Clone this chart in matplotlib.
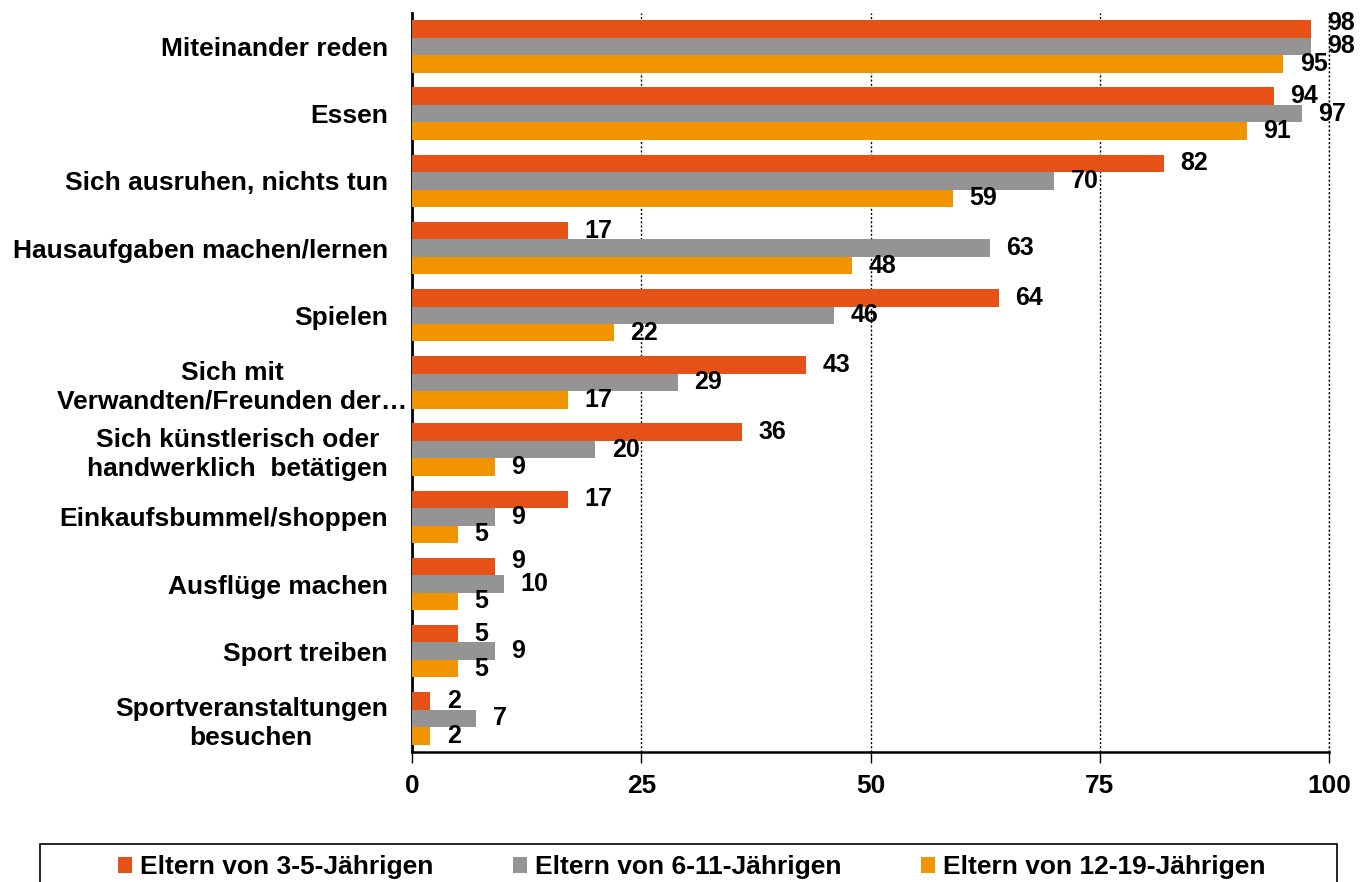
import matplotlib.pyplot as plt
import matplotlib.transforms as mtrans
from matplotlib.patches import Rectangle
import numpy as np

plt.rcParams['font.family'] = ['Liberation Sans', 'DejaVu Sans']
plt.rcParams['font.weight'] = 'bold'

categories = [
    "Miteinander reden",
    "Essen",
    "Sich ausruhen, nichts tun",
    "Hausaufgaben machen/lernen",
    "Spielen",
    "Sich mit\nVerwandten/Freunden der…",
    "Sich künstlerisch oder\nhandwerklich  betätigen",
    "Einkaufsbummel/shoppen",
    "Ausflüge machen",
    "Sport treiben",
    "Sportveranstaltungen\nbesuchen",
]
series_names = ["Eltern von 3-5-Jährigen", "Eltern von 6-11-Jährigen", "Eltern von 12-19-Jährigen"]
vals_3_5 = [98, 94, 82, 17, 64, 43, 36, 17, 9, 5, 2]
vals_6_11 = [98, 97, 70, 63, 46, 29, 20, 9, 10, 9, 7]
vals_12_19 = [95, 91, 59, 48, 22, 17, 9, 5, 5, 5, 2]
colors = ["#E65118", "#949494", "#F29400"]

FS = 19

fig = plt.figure(figsize=(13.62, 8.82), dpi=100)
ax = fig.add_axes([0.3025, 0.1474, 0.6733, 0.838])

y = np.arange(len(categories))
h = 0.26
handles = []
all_vals = [vals_3_5, vals_6_11, vals_12_19]
for k, (vals, name, c) in enumerate(zip(all_vals, series_names, colors)):
    pos = y + (k - 1) * h
    bars = ax.barh(pos, vals, height=h, color=c, label=name, zorder=3)
    handles.append(bars)
    for i, (p, v) in enumerate(zip(pos, vals)):
        # nudge a label up when the bar below ends at nearly the same spot
        dy = 4 if k == 0 and abs(v - all_vals[1][i]) <= 2 else 0
        ax.annotate(str(v), (v + 1.8, p), xytext=(0, dy), textcoords='offset points',
                    va='center', ha='left', fontsize=18, fontweight='bold', zorder=4)

ax.set_xlim(0, 100)
ax.set_ylim(len(categories) - 0.5, -0.5)
ax.set_xticks([0, 25, 50, 75, 100])
ax.set_yticks(y)
ax.set_yticklabels(categories, fontsize=FS, fontweight='bold', multialignment='center',
                   linespacing=1.25)
ax.tick_params(axis='y', length=0, pad=24)
ax.tick_params(axis='x', labelsize=FS, length=8, width=1, direction='out', pad=8)
for lbl in ax.get_xticklabels():
    lbl.set_fontweight('bold')

# whole label block sits a little closer to the axis; the truncated one sticks out
for i, lab in enumerate(ax.get_yticklabels()):
    dx = 0.29 if i == 5 else 0.09
    lab.set_transform(lab.get_transform() + mtrans.ScaledTranslation(dx, 0, fig.dpi_scale_trans))

ax.grid(axis='x', color='black', linestyle=(0, (1.5, 1.5)), linewidth=1, zorder=1)
ax.axvline(100, color='black', linestyle=(0, (1.5, 1.5)), linewidth=1, zorder=1, clip_on=False)
ax.spines['top'].set_visible(False)
ax.spines['right'].set_visible(False)
ax.spines['left'].set_linewidth(2)
ax.spines['bottom'].set_linewidth(1.8)

# legend box runs off the bottom of the image
fig.patches.append(Rectangle((40 / 1362, -0.05), 1297 / 1362, 0.05 + 38 / 882,
                             transform=fig.transFigure, fill=False, edgecolor='black',
                             linewidth=1.2))
leg = fig.legend(handles=handles, loc='center', bbox_to_anchor=(0.508, 15 / 882),
                 ncol=3, fontsize=FS, frameon=False, handlelength=0.55,
                 handleheight=0.55, handletextpad=0.3, columnspacing=3.0, borderaxespad=0)
for t in leg.get_texts():
    t.set_fontweight('bold')

fig.savefig('out.png', dpi=100)
